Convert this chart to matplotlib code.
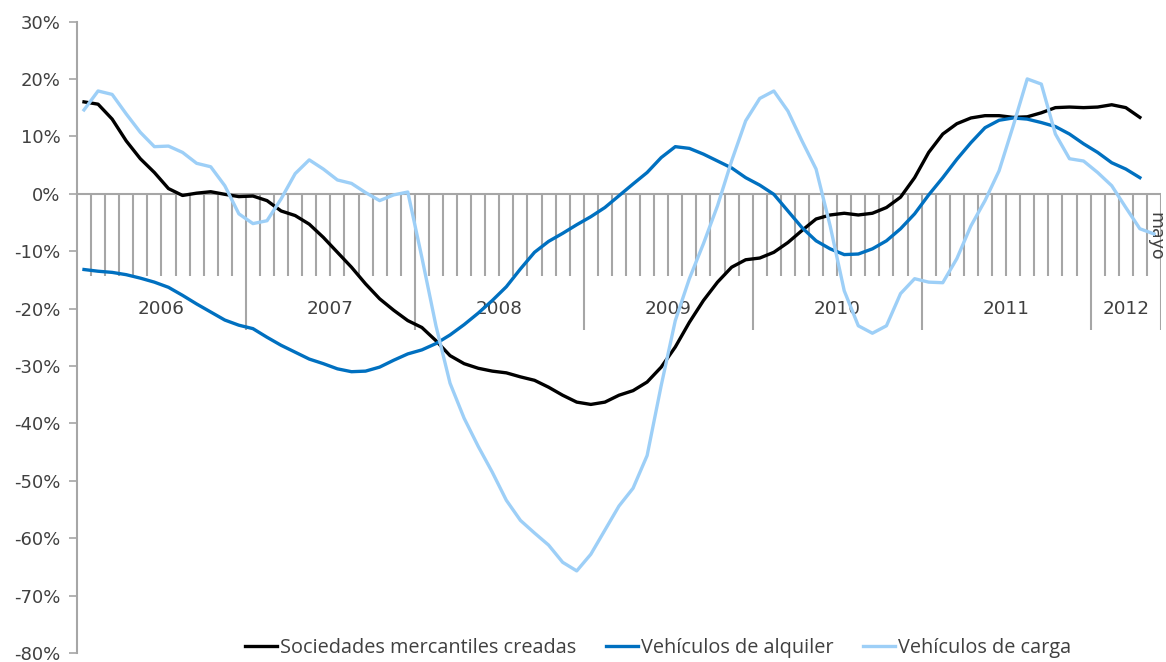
import numpy as np
import matplotlib.pyplot as plt

plt.rcParams['font.family'] = ['DejaVu Sans']

# monthly data, Jan 2006 .. May 2012 (percent)
years = ['2006', '2007', '2008', '2009', '2010', '2011', '2012']
months_per_year = [12, 12, 12, 12, 12, 12, 5]
end_label = 'mayo'

sociedades = [16.0, 15.6, 13.0, 9.2, 6.1, 3.7, 0.9, -0.3, 0.1, 0.35, -0.1, -0.5,
              -0.4, -1.2, -3.0, -3.8, -5.3, -7.6, -10.2, -12.8, -15.7, -18.3, -20.3, -22.1,
              -23.3, -25.6, -28.2, -29.6, -30.4, -30.9, -31.2, -31.9, -32.5, -33.7, -35.1, -36.3,
              -36.7, -36.3, -35.1, -34.3, -32.8, -30.2, -26.7, -22.4, -18.6, -15.4, -12.8, -11.5,
              -11.2, -10.2, -8.5, -6.4, -4.4, -3.7, -3.4, -3.7, -3.4, -2.4, -0.6, 2.8,
              7.2, 10.4, 12.2, 13.2, 13.6, 13.6, 13.3, 13.4, 14.1, 15.0, 15.1, 15.0,
              15.1, 15.5, 15.0, 13.3, np.nan]

alquiler = [-13.2, -13.5, -13.7, -14.1, -14.7, -15.4, -16.3, -17.7, -19.2, -20.6, -22.0, -22.9,
            -23.5, -25.0, -26.4, -27.6, -28.8, -29.6, -30.5, -31.0, -30.9, -30.2, -29.0, -27.9,
            -27.2, -26.1, -24.6, -22.8, -20.8, -18.6, -16.2, -13.1, -10.2, -8.3, -6.9, -5.4,
            -4.0, -2.4, -0.35, 1.7, 3.7, 6.3, 8.2, 7.9, 6.9, 5.7, 4.5, 2.8,
            1.5, -0.1, -3.0, -5.9, -8.2, -9.6, -10.6, -10.5, -9.6, -8.2, -6.1, -3.5,
            -0.2, 2.8, 6.0, 8.9, 11.5, 12.8, 13.2, 13.0, 12.4, 11.7, 10.4, 8.7,
            7.2, 5.4, 4.3, 2.8, np.nan]

carga = [14.6, 17.9, 17.3, 13.9, 10.7, 8.2, 8.3, 7.2, 5.3, 4.7, 1.4, -3.5,
         -5.2, -4.7, -0.9, 3.5, 5.9, 4.3, 2.4, 1.8, 0.2, -1.2, -0.2, 0.3,
         -11.1, -23.0, -33.0, -39.1, -44.0, -48.5, -53.4, -56.9, -59.1, -61.2, -64.2, -65.7,
         -62.8, -58.6, -54.4, -51.3, -45.6, -33.4, -22.1, -14.8, -8.7, -2.1, 5.7, 12.7,
         16.6, 17.9, 14.4, 9.2, 4.3, -5.6, -16.9, -23.0, -24.3, -23.0, -17.4, -14.8,
         -15.4, -15.5, -11.3, -5.6, -1.2, 4.0, 11.8, 20.0, 19.1, 10.4, 6.1, 5.7,
         3.7, 1.4, -2.4, -6.1, -7.0]

labels = ['Sociedades mercantiles creadas', 'Vehículos de alquiler', 'Vehículos de carga']
colors = ['#000000', '#0070C0', '#9DCFF7']

n = len(carga)
x = np.arange(n)
grey = '#A6A6A6'
txt = '#404040'

fig = plt.figure(figsize=(11.66, 6.62), dpi=100)
ax = fig.add_axes([0.066, 0.0136, 0.9297, 0.9539])

# category axis at zero with month ticks and year separators
ax.hlines(0, -0.5, n - 0.5, color=grey, lw=1.5, zorder=1)
bounds = np.cumsum(months_per_year) - 0.5
for k in range(n):
    b = k + 0.5
    if b in bounds:
        ax.vlines(b, -23.8, 0, color=grey, lw=1.5, zorder=1)
    else:
        ax.vlines(b, -14.3, 0, color=grey, lw=1.5, zorder=1)

start = -0.5
for yr, m in zip(years, months_per_year):
    ax.text(start + m / 2, -20, yr, ha='center', va='center', fontsize=13.2, color=txt)
    start += m
ax.text(n - 0.9, -7.4, end_label, rotation=-90, ha='center', va='center', fontsize=12.5, color=txt)

for ser, lab, col in zip([sociedades, alquiler, carga], labels, colors):
    ax.plot(x, ser, color=col, lw=2.4, label=lab, zorder=3, solid_joinstyle='round')

ax.set_xlim(-0.5, n - 0.5)
ax.set_ylim(-80, 30)
ax.set_yticks(np.arange(-80, 31, 10))
ax.set_yticklabels([f'{v}%' for v in range(-80, 31, 10)])
ax.tick_params(axis='y', colors=grey, labelcolor=txt, labelsize=13, length=6, width=1.2, pad=6)
ax.set_xticks([])
for s in ['top', 'right', 'bottom']:
    ax.spines[s].set_visible(False)
ax.spines['left'].set_color(grey)
ax.spines['left'].set_linewidth(1.5)

fig.legend(loc='center', bbox_to_anchor=(0.5643, 0.021), ncol=3, frameon=False,
           prop={'family': ['Open Sans', 'DejaVu Sans'], 'size': 14.3},
           handlelength=1.6, handletextpad=0.15, columnspacing=1.5,
           labelcolor=txt)

fig.savefig('out.png', dpi=100)
